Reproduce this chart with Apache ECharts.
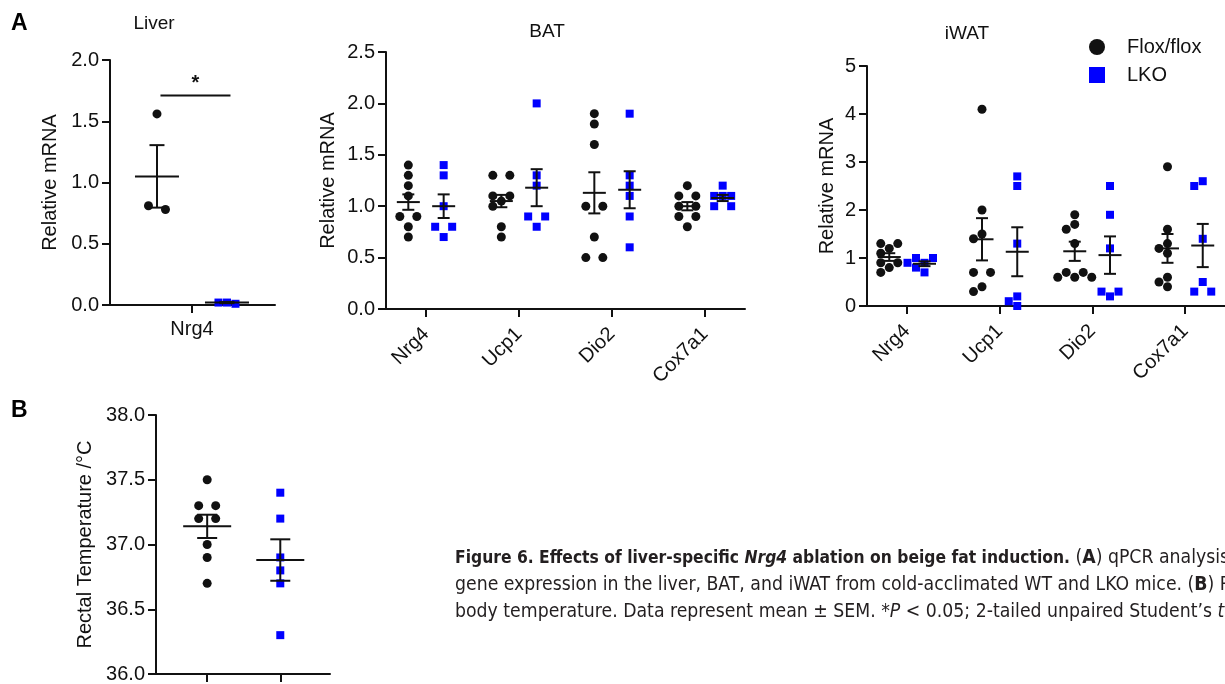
<!DOCTYPE html>
<html>
<head>
<meta charset="utf-8">
<script src="https://cdn.jsdelivr.net/npm/echarts@6/dist/echarts.min.js"></script>
<style>html,body{margin:0;padding:0;background:#fff}#c{width:1225px;height:684px}</style>
</head>
<body>
<div id="c"></div>
<script>
// ---------------- DATA ----------------
const liverGenes = ['Nrg4'];
const liverFlox = [[1.56, 0.78, 0.81]];
const liverLKO = [[0.01, 0.02, 0.02]];
const liverFloxMean = [1.05], liverFloxSem = [0.255];
const liverLKOMean = [0.02], liverLKOSem = [0.005];
const liverSigSpan = [-0.45, 0.55];
const liverSigY = 1.71;
const liverSigLabel = '*';

const genes = ['Nrg4', 'Ucp1', 'Dio2', 'Cox7a1'];
const batFlox = [
  [1.4, 1.3, 1.2, 1.1, 0.9, 0.9, 0.8, 0.7],
  [1.3, 1.3, 1.1, 1.1, 1.05, 1.0, 0.8, 0.7],
  [1.9, 1.8, 1.6, 1.0, 1.0, 0.7, 0.5, 0.5],
  [1.2, 1.1, 1.1, 1.0, 1.0, 0.9, 0.9, 0.8]
];
const batLKO = [
  [1.4, 1.3, 1.0, 0.8, 0.8, 0.7],
  [2.0, 1.3, 1.2, 0.9, 0.9, 0.8],
  [1.9, 1.3, 1.2, 1.1, 0.9, 0.6],
  [1.2, 1.1, 1.1, 1.1, 1.0, 1.0]
];
const batFloxMean = [1.04, 1.05, 1.13, 1.0], batFloxSem = [0.075, 0.06, 0.2, 0.04];
const batLKOMean = [1.0, 1.18, 1.16, 1.08], batLKOSem = [0.115, 0.18, 0.18, 0.03];

const iwatFlox = [
  [1.3, 1.3, 1.2, 1.1, 0.9, 0.9, 0.8, 0.7],
  [4.1, 2.0, 1.5, 1.4, 0.7, 0.7, 0.4, 0.3],
  [1.9, 1.7, 1.6, 1.3, 0.7, 0.7, 0.6, 0.6, 0.6],
  [2.9, 1.6, 1.3, 1.2, 1.1, 0.6, 0.5, 0.4]
];
const iwatLKO = [
  [1.0, 1.0, 0.9, 0.9, 0.8, 0.7],
  [2.7, 2.5, 1.3, 0.2, 0.0, 0.1],
  [2.5, 1.9, 1.2, 0.3, 0.3, 0.2],
  [2.6, 2.5, 1.4, 0.5, 0.3, 0.3]
];
const iwatFloxMean = [1.02, 1.39, 1.14, 1.2], iwatFloxSem = [0.08, 0.44, 0.2, 0.3];
const iwatLKOMean = [0.88, 1.13, 1.06, 1.26], iwatLKOSem = [0.05, 0.51, 0.39, 0.45];

const tempFlox = [37.5, 37.3, 37.3, 37.2, 37.2, 37.0, 36.9, 36.7];
const tempLKO = [37.4, 37.2, 36.9, 36.8, 36.7, 36.3];
const tempMean = [37.14, 36.88], tempSem = [0.09, 0.16];

const seriesNames = ['Flox/flox', 'LKO'];
const titles = ['Liver', 'BAT', 'iWAT'];
const yNameMRNA = 'Relative mRNA';
const yNameTemp = 'Rectal Temperature /°C';

// ---------------- STYLE ----------------
const FF = "'Liberation Sans', Arial, Helvetica, sans-serif";
const INK = '#111';
const BLUE = '#0000ff';
const FS = 20;

function swarmOffsets(vals, ppu, w, d) {
  const order = vals.map((v, i) => i).sort((a, b) => vals[b] - vals[a]);
  const rows = [];
  order.forEach(i => {
    const r = rows[rows.length - 1];
    if (r && Math.abs(vals[r[0]] - vals[i]) * ppu < 4) r.push(i); else rows.push([i]);
  });
  const placed = [];
  const off = new Array(vals.length).fill(0);
  const cands = [0, -w, w, -2 * w, 2 * w, -3 * w, 3 * w];
  rows.forEach(r => {
    const n = r.length;
    let pref = [];
    if (n % 2 === 1) { pref.push(0); for (let k = 1; pref.length < n; k++) { pref.push(-k * w, k * w); } }
    else { for (let k = 1; pref.length < n; k++) { pref.push(-k * w, k * w); } }
    pref = pref.slice(0, n);
    r.forEach((i, j) => {
      const y = vals[i] * ppu;
      const ok = x => placed.every(p => Math.hypot(p[0] - x, p[1] - y) >= d || (p[2] === r && Math.abs(p[0] - x) >= w * 0.9));
      let x = pref[j];
      if (!ok(x)) { const c = cands.find(c => ok(c)); if (c !== undefined) x = c; }
      placed.push([x, y, r]);
      off[i] = x;
    });
  });
  return off;
}

function errRender(meanHalf, capHalf) {
  return function (params, api) {
    const x = api.value(0), m = api.value(1), s = api.value(2);
    const pm = api.coord([x, m]), pt = api.coord([x, m + s]), pb = api.coord([x, m - s]);
    const st = { stroke: INK, lineWidth: 2 };
    return {
      type: 'group', children: [
        { type: 'line', shape: { x1: pm[0] - meanHalf, y1: pm[1], x2: pm[0] + meanHalf, y2: pm[1] }, style: st },
        { type: 'line', shape: { x1: pt[0], y1: pt[1], x2: pb[0], y2: pb[1] }, style: st },
        { type: 'line', shape: { x1: pt[0] - capHalf, y1: pt[1], x2: pt[0] + capHalf, y2: pt[1] }, style: st },
        { type: 'line', shape: { x1: pb[0] - capHalf, y1: pb[1], x2: pb[0] + capHalf, y2: pb[1] }, style: st }
      ]
    };
  };
}

const grids = [], xAxes = [], yAxes = [], series = [];
function addPanel(p) {
  const gi = grids.length;
  grids.push({ left: p.grid[0], top: p.grid[1], width: p.grid[2], height: p.grid[3] });
  xAxes.push({
    type: 'value', gridIndex: gi, min: p.xmin, max: p.xmax,
    axisLine: { show: true, onZero: false, lineStyle: { color: INK, width: 2 } },
    splitLine: { show: false },
    axisTick: { show: true, customValues: p.ticks, length: 8, lineStyle: { color: INK, width: 2 } },
    axisLabel: {
      show: p.labels.length > 0, customValues: p.ticks,
      formatter: v => p.labels[Math.round(v)] || '',
      rotate: p.rotate, fontSize: FS, color: INK, fontFamily: FF, margin: p.xMargin
    }
  });
  yAxes.push({
    type: 'value', gridIndex: gi, min: p.ymin, max: p.ymax, interval: p.yint,
    axisLine: { show: true, onZero: false, lineStyle: { color: INK, width: 2 } },
    axisTick: { show: true, length: 8, lineStyle: { color: INK, width: 2 } },
    splitLine: { show: false },
    axisLabel: { fontSize: FS, color: INK, fontFamily: FF, margin: 11, formatter: p.yfmt },
    name: p.yname, nameLocation: 'middle', nameRotate: 90, nameGap: p.nameGap,
    nameTextStyle: { fontSize: FS, color: INK, fontFamily: FF }
  });
  const ppu = p.grid[3] / (p.ymax - p.ymin);
  const kinds = [
    { name: seriesNames[0], symbol: 'circle', size: 9, color: INK, groups: p.flox },
    { name: seriesNames[1], symbol: 'rect', size: 8, color: BLUE, groups: p.lko }
  ];
  kinds.forEach(k => {
    const data = [];
    k.groups.forEach(g => {
      const offs = swarmOffsets(g.vals, ppu, 8.5, 8);
      g.vals.forEach((v, i) => data.push({ value: [g.pos, v], symbolOffset: [offs[i], 0] }));
    });
    series.push({
      type: 'scatter', name: k.name, xAxisIndex: gi, yAxisIndex: gi, symbol: k.symbol, symbolSize: k.size,
      itemStyle: { color: k.color, opacity: 1 }, data, z: 2, silent: true, animation: false
    });
  });
  const errData = p.flox.concat(p.lko).map(g => [g.pos, g.mean, g.sem]);
  series.push({
    type: 'custom', xAxisIndex: gi, yAxisIndex: gi, renderItem: errRender(p.meanHalf, p.capHalf),
    data: errData, encode: { x: 0, y: 1 }, z: 3, silent: true, animation: false
  });
  return gi;
}

function groupsOf(valsArr, means, sems, shift) {
  return valsArr.map((vals, i) => ({ pos: i + shift, vals, mean: means[i], sem: sems[i] }));
}

const f1 = v => v.toFixed(1);
const f0 = v => v.toFixed(0);

const liverGi = addPanel({
  grid: [110, 60, 165, 245], xmin: -1.171, xmax: 1.186, ymin: 0, ymax: 2, yint: 0.5, yfmt: f1,
  ticks: [0], labels: liverGenes, rotate: 0, xMargin: 14, yname: yNameMRNA, nameGap: 50,
  meanHalf: 22, capHalf: 7.5,
  flox: groupsOf(liverFlox, liverFloxMean, liverFloxSem, -0.5),
  lko: groupsOf(liverLKO, liverLKOMean, liverLKOSem, 0.5)
});
addPanel({
  grid: [386, 52, 359, 257], xmin: -0.43, xmax: 3.43, ymin: 0, ymax: 2.5, yint: 0.5, yfmt: f1,
  ticks: [0, 1, 2, 3], labels: genes, rotate: 45, xMargin: 22, yname: yNameMRNA, nameGap: 48,
  meanHalf: 11.5, capHalf: 6,
  flox: groupsOf(batFlox, batFloxMean, batFloxSem, -0.19),
  lko: groupsOf(batLKO, batLKOMean, batLKOSem, 0.19)
});
addPanel({
  grid: [867, 66, 359, 240], xmin: -0.43, xmax: 3.43, ymin: 0, ymax: 5, yint: 1, yfmt: f0,
  ticks: [0, 1, 2, 3], labels: genes, rotate: 45, xMargin: 22, yname: yNameMRNA, nameGap: 30,
  meanHalf: 11.5, capHalf: 6,
  flox: groupsOf(iwatFlox, iwatFloxMean, iwatFloxSem, -0.19),
  lko: groupsOf(iwatLKO, iwatLKOMean, iwatLKOSem, 0.19)
});
addPanel({
  grid: [156, 415, 174, 259], xmin: -0.70, xmax: 1.68, ymin: 36, ymax: 38, yint: 0.5, yfmt: f1,
  ticks: [0, 1], labels: [], rotate: 0, xMargin: 10, yname: yNameTemp, nameGap: 61,
  meanHalf: 24, capHalf: 10,
  flox: [{ pos: 0, vals: tempFlox, mean: tempMean[0], sem: tempSem[0] }],
  lko: [{ pos: 1, vals: tempLKO, mean: tempMean[1], sem: tempSem[1] }]
});

// significance bar (Liver)
series.push({
  type: 'custom', xAxisIndex: liverGi, yAxisIndex: liverGi, silent: true, animation: false, z: 4,
  data: [[liverSigSpan[0], liverSigSpan[1], liverSigY]],
  encode: { x: [0, 1], y: 2 },
  renderItem: (params, api) => {
    const a = api.coord([api.value(0), api.value(2)]);
    const b = api.coord([api.value(1), api.value(2)]);
    return {
      type: 'group', children: [
        { type: 'line', shape: { x1: a[0], y1: a[1], x2: b[0], y2: b[1] }, style: { stroke: INK, lineWidth: 2 } },
        { type: 'text', x: (a[0] + b[0]) / 2, y: a[1] - 2, style: { text: liverSigLabel, textAlign: 'center', textVerticalAlign: 'bottom', font: 'bold 20px ' + FF, fill: INK } }
      ]
    };
  }
});

// caption fonts
function fontExists(f) {
  const c = document.createElement('canvas').getContext('2d');
  const t = 'abcdefghijklmnopqrstuvwxyz ABCDEFG 0123456789';
  c.font = '20px monospace'; const base = c.measureText(t).width;
  c.font = "20px '" + f + "', monospace";
  return Math.abs(c.measureText(t).width - base) > 0.5;
}
function pickFont(cands) { for (const f of cands) if (fontExists(f)) return f; return 'Liberation Sans'; }
const CF = "'" + pickFont(['DejaVu Sans Condensed', 'Liberation Sans Narrow', 'Roboto Condensed']) + "', 'Liberation Sans', sans-serif";
const BF = "'" + pickFont(['Liberation Sans Narrow', 'DejaVu Sans Condensed', 'Roboto Condensed']) + "', 'Liberation Sans', sans-serif";
const mctx = document.createElement('canvas').getContext('2d');
function measure(font, txt) { mctx.font = font; return mctx.measureText(txt).width; }
const capFit = Math.max(14, Math.min(21, 20 * 758 / measure('20px ' + CF, 'gene expression in the liver, BAT, and iWAT from cold-acclimated WT and LKO mice. (B)')));
const boldFit = Math.max(capFit * 0.9, Math.min(capFit * 1.15, 20 * 588 / measure('bold 20px ' + BF, 'Figure 6. Effects of liver-specific Nrg4 ablation on beige fat induction.')));
const CAPC = '#231f20';
const capRich = {
  b: { fontWeight: 'bold', fontSize: boldFit, fontFamily: BF, fill: CAPC },
  bi: { fontWeight: 'bold', fontStyle: 'italic', fontSize: boldFit, fontFamily: BF, fill: CAPC },
  B: { fontWeight: 'bold', fontSize: capFit, fontFamily: CF, fill: CAPC },
  i: { fontStyle: 'italic', fontSize: capFit, fontFamily: CF, fill: CAPC }
};
const capLines = [
  '{b|Figure 6. Effects of liver-specific }{bi|Nrg4}{b| ablation on beige fat induction.} ({B|A}) qPCR analysis of thermogenic',
  'gene expression in the liver, BAT, and iWAT from cold-acclimated WT and LKO mice. ({B|B}) Rectal',
  'body temperature. Data represent mean ± SEM. *{i|P} < 0.05; 2-tailed unpaired Student’s {i|t} test.'
];

const graphics = [
  { type: 'text', x: 11, y: 24, style: { text: 'A', font: '900 23px ' + FF, fill: '#000', textVerticalAlign: 'middle' } },
  { type: 'text', x: 11, y: 411, style: { text: 'B', font: '900 23px ' + FF, fill: '#000', textVerticalAlign: 'middle' } },
  { type: 'text', x: 154, y: 24, style: { text: titles[0], font: '19px ' + FF, fill: INK, textAlign: 'center', textVerticalAlign: 'middle' } },
  { type: 'text', x: 547, y: 32, style: { text: titles[1], font: '19px ' + FF, fill: INK, textAlign: 'center', textVerticalAlign: 'middle' } },
  { type: 'text', x: 967, y: 34, style: { text: titles[2], font: '19px ' + FF, fill: INK, textAlign: 'center', textVerticalAlign: 'middle' } }
];
capLines.forEach((t, i) => {
  graphics.push({
    type: 'text', x: 455, y: 558 + i * 27,
    style: { text: t, rich: capRich, font: capFit + 'px ' + CF, fill: CAPC, textVerticalAlign: 'middle' }
  });
});

const chart = echarts.init(document.getElementById('c'), null, { renderer: 'canvas' });
chart.setOption({
  animation: false,
  backgroundColor: '#fff',
  textStyle: { fontFamily: FF },
  grid: grids, xAxis: xAxes, yAxis: yAxes, series,
  legend: {
    left: 1089, top: 37, padding: 0, orient: 'vertical', itemWidth: 16, itemHeight: 16, itemGap: 8,
    selectedMode: false,
    formatter: n => '{p|}' + n,
    textStyle: { fontSize: 20, lineHeight: 20, color: INK, fontFamily: FF, rich: { p: { width: 17 } } },
    data: [{ name: seriesNames[0], icon: 'circle' }, { name: seriesNames[1], icon: 'rect' }]
  },
  graphic: graphics
});
</script>
</body>
</html>
